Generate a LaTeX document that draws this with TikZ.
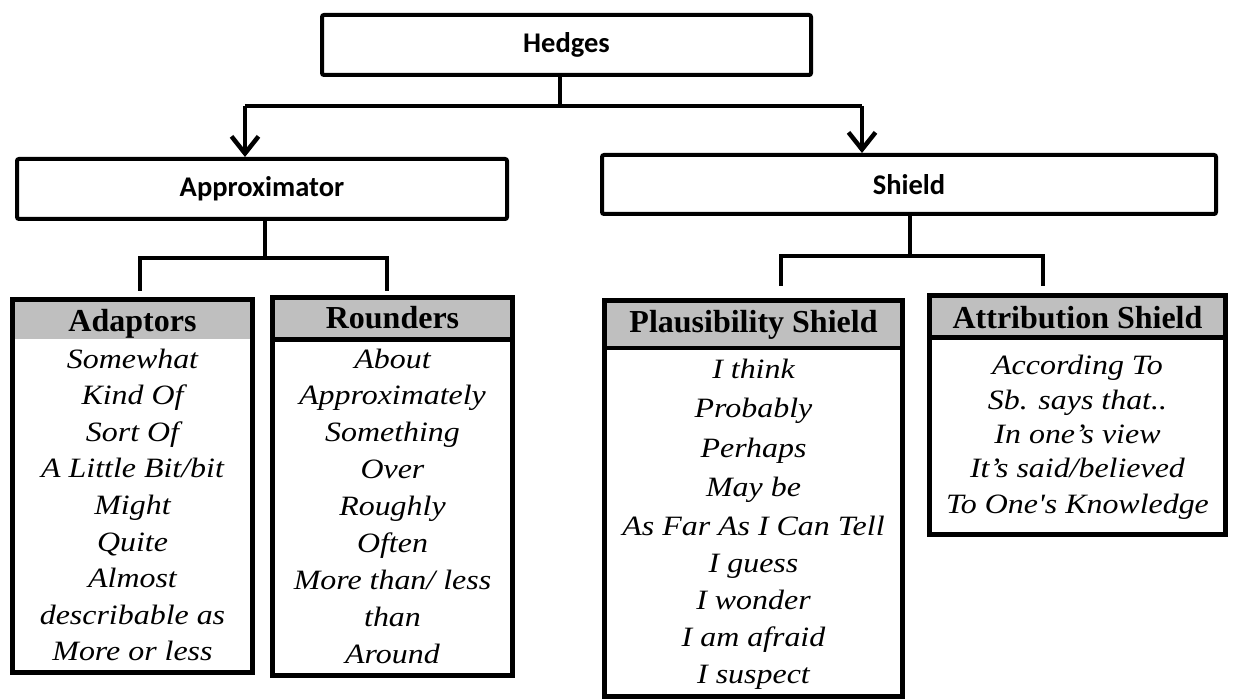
\documentclass[tikz,border=0pt]{standalone}
\usepackage{fontspec}
\setmainfont{Liberation Serif}
\newfontfamily\itemfont[FakeStretch=1.14,Ligatures=TeXOff]{Liberation Serif}
\newfontfamily\headfont{Liberation Serif}
\newfontfamily\labelfont{Carlito}
\usetikzlibrary{arrows.meta}
\definecolor{hdrgray}{RGB}{191,191,191}
\tikzset{
  topbox/.style={draw, line width=4pt, rounded corners=2pt, fill=white, inner sep=0pt,
    font=\labelfont\bfseries\fontsize{28.5}{30}\selectfont},
  listbox/.style={draw, line width=5pt, inner sep=0pt},
  conn/.style={line width=4.5pt, line join=miter},
  arr/.style={conn, -{Straight Barb[length=17pt,width=27pt]}},
  sepline/.style={line width=5pt},
  hdr/.style={anchor=base, inner sep=0pt, font=\headfont\bfseries\fontsize{32}{34}\selectfont},
  item/.style={anchor=base, inner sep=0pt, font=\itemfont\itshape\fontsize{28}{30}\selectfont}
}
\begin{document}
\begin{tikzpicture}[x=1pt,y=-1pt]
\useasboundingbox[fill=white] (0,0) rectangle (1233,700);

% top level boxes
\node[topbox, minimum width=489pt, minimum height=60pt] (hedges) at (566.5,45) {Hedges};
\node[topbox, minimum width=490pt, minimum height=60pt] (approx) at (262,189) {Approximator};
\node[topbox, minimum width=614pt, minimum height=59pt] (shield) at (909,184.5) {Shield};

% top connectors
\coordinate (hj) at (560,106);
\coordinate (la) at (245,106);
\coordinate (ra) at (862,106);
\draw[conn] (hedges.south -| hj) -- (hj);
\draw[conn] (la) -- (ra);
\draw[arr] (la) -- (la |- approx.north);
\draw[arr] (ra) -- (ra |- shield.north);

% lower brackets
\coordinate (ab) at (265,258);
\coordinate (a1) at (140,291);
\coordinate (a2) at (387,291);
\draw[conn] (approx.south -| ab) -- (ab);
\draw[conn] (a1) |- (ab) -| (a2);

\coordinate (sb) at (910,256);
\coordinate (s1) at (781,286);
\coordinate (s2) at (1043,286);
\draw[conn] (shield.south -| sb) -- (sb);
\draw[conn] (s1) |- (sb) -| (s2);

% header fills
\fill[hdrgray] (12.5,299.5) rectangle (252.5,339);
\fill[hdrgray] (272.5,297.5) rectangle (512.5,339.5);
\fill[hdrgray] (604,300) rectangle (903,347.5);
\fill[hdrgray] (929.5,295.5) rectangle (1225.5,337.5);

% list boxes
\node[listbox, minimum width=240pt, minimum height=373pt] (adap) at (132.5,486) {};
\node[listbox, minimum width=240pt, minimum height=378pt] (round) at (392.5,486.5) {};
\node[listbox, minimum width=298pt, minimum height=396pt] (plaus) at (753.5,498.5) {};
\node[listbox, minimum width=296pt, minimum height=239pt] (attr) at (1077.5,415) {};

% separators
\draw[sepline] (round.west |- 0,339.5) -- (round.east |- 0,339.5);
\draw[line width=4pt] (plaus.west |- 0,347.5) -- (plaus.east |- 0,347.5);
\draw[sepline] (attr.west |- 0,337.5) -- (attr.east |- 0,337.5);

% headers
\node[hdr] (adaph) at (132.5,331) {Adaptors};
\node[hdr] (roundh) at (392.5,328) {Rounders};
\node[hdr] (plaush) at (753.5,332) {Plausibility Shield};
\node[hdr] (attrh) at (1077.5,328) {Attribution Shield};

% items
\foreach \t [count=\i] in {Somewhat, Kind Of, Sort Of, A Little Bit/bit, Might, Quite, Almost, describable as, More or less}
  \node[item] (adap\i) at (132.5,{368+36.6*(\i-1)}) {\t};
\foreach \t [count=\i] in {About, Approximately, Something, Over, Roughly, Often, More than/ less, than, Around}
  \node[item] (round\i) at (392.5,{368+36.9*(\i-1)}) {\t};
\foreach \t/\y [count=\i] in {I think/378, Probably/417, Perhaps/457, May be/496, As Far As I Can Tell/535, I guess/572, I wonder/609, I am afraid/646, I suspect/683}
  \node[item] (plaus\i) at (753.5,\y) {\t};
\node[item] (attr1) at (1077.5,374) {According To};
\node[item] (attr2) at (1077.5,409) {Sb. says that..};
\node[item] (attr3) at (1077.5,443) {In one’s view};
\node[item] (attr4) at (1077.5,477) {It’s said/believed};
\node[item] (attr5) at (1077.5,513) {To One's Knowledge};
\end{tikzpicture}
\end{document}
